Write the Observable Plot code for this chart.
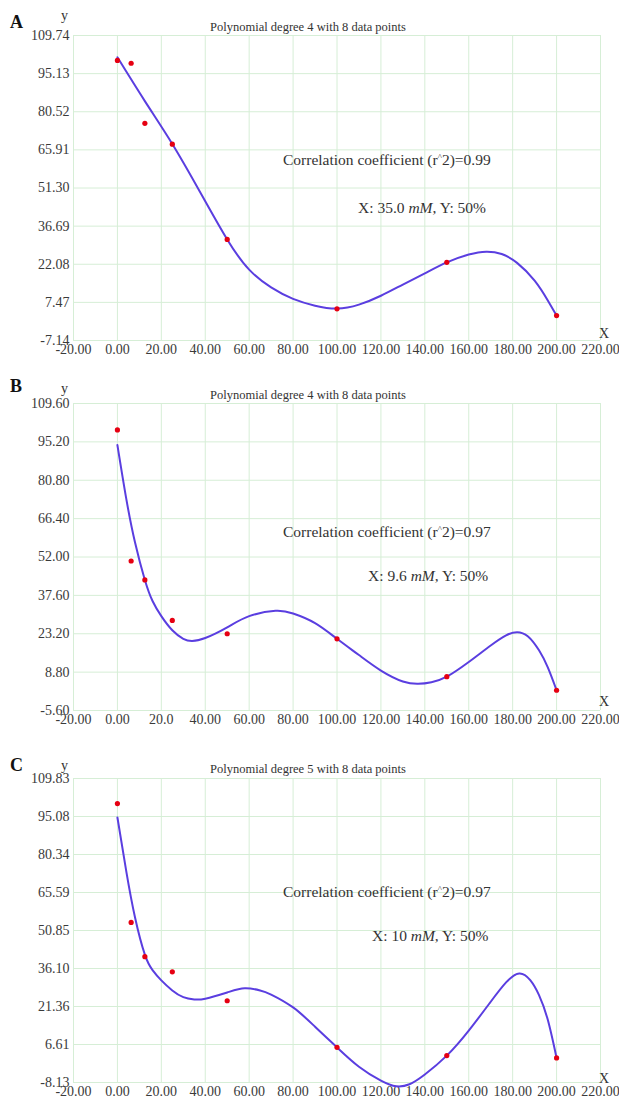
<!DOCTYPE html>
<html>
<head>
<meta charset="utf-8">
<script src="https://cdn.jsdelivr.net/npm/d3@7"></script>
<script src="https://cdn.jsdelivr.net/npm/@observablehq/plot@0.6"></script>
<style>
  html, body { margin: 0; padding: 0; background: #fff; }
  body { width: 619px; font-family: "Liberation Serif", "Times New Roman", "DejaVu Serif", serif; color: #333; }
  .panel { position: relative; width: 619px; overflow: visible; }
  .panel svg { position: absolute; left: 0; top: 0; overflow: visible; }
  .lbl { position: absolute; white-space: nowrap; line-height: 1; }
  .letter { font-weight: bold; font-size: 18px; color: #111; }
  .title { font-size: 12.5px; transform: translateX(-50%); }
  .axlab { font-size: 14px; }
  .ann { font-size: 15.5px; }
</style>
</head>
<body>
<div id="chart"></div>
<script>
// ---------- data ----------
const xData = [0, 6.25, 12.5, 25, 50, 100, 150, 200];
const yDataA = [100.2, 99.1, 76.1, 68.1, 31.6, 5.0, 22.8, 2.4];
const yDataB = [99.7, 50.5, 43.4, 28.2, 23.2, 21.3, 7.1, 2.0];
const yDataC = [100.1, 54.0, 40.7, 34.8, 23.6, 5.5, 2.3, 1.4];

// fitted curves
const curveXA = [0, 12.5, 25, 37.5, 50, 60, 70, 80, 90, 100, 110, 120, 130, 140, 150, 160, 168, 175, 182, 190, 196, 200];
const curveYA = [101.4, 84.6, 68.2, 50.0, 31.6, 20.0, 13.2, 8.8, 6.2, 5.1, 6.6, 10.0, 14.3, 18.6, 22.8, 25.8, 26.9, 26.0, 22.6, 15.8, 8.2, 2.4];
const curveXB = [0, 4, 8, 12.5, 16, 20, 25, 30, 34, 40, 50, 60, 72, 80, 90, 100, 110, 120, 130, 137, 143, 150, 160, 170, 177, 182, 187, 192, 196, 200];
const curveYB = [94.0, 74, 57.5, 43.4, 35.5, 29.8, 24.5, 21.3, 20.5, 21.6, 25.6, 29.8, 31.8, 30.8, 27.2, 21.3, 15.2, 9.4, 5.3, 4.4, 5.0, 7.1, 12.6, 18.8, 22.6, 23.8, 22.2, 17.0, 10.6, 2.0];
const curveXC = [0, 4, 8, 12.5, 16, 20, 25, 30, 35, 40, 50, 58, 65, 70, 80, 90, 100, 110, 120, 127, 133, 140, 150, 160, 170, 177, 183, 188, 192, 196, 200];
const curveYC = [94.7, 74, 56, 41.5, 35.5, 31.5, 27.6, 25.0, 24.1, 24.4, 26.8, 28.4, 27.6, 26.0, 21.0, 13.5, 5.5, -2.0, -7.4, -9.6, -8.8, -5.0, 2.3, 12.0, 23.2, 30.7, 34.2, 31.6, 25.8, 16.2, 1.4];

// tick labels
const xTickLabelsA = ["-20.00", "0.00", "20.00", "40.00", "60.00", "80.00", "100.00", "120.00", "140.00", "160.00", "180.00", "200.00", "220.00"];
const xTickLabelsB = ["-20.00", "0.00", "20.0", "40.00", "60.00", "80.00", "100.00", "120.00", "140.00", "160.00", "180.00", "200.00", "220.00"];
const xTickLabelsC = ["-20.00", "0.00", "20.00", "40.00", "60.00", "80.00", "100.00", "120.00", "140.00", "160.00", "180.00", "200.00", "220.00"];
const yTickLabelsA = ["-7.14", "7.47", "22.08", "36.69", "51.30", "65.91", "80.52", "95.13", "109.74"];
const yTickLabelsB = ["-5.60", "8.80", "23.20", "37.60", "52.00", "66.40", "80.80", "95.20", "109.60"];
const yTickLabelsC = ["-8.13", "6.61", "21.36", "36.10", "50.85", "65.59", "80.34", "95.08", "109.83"];

const panelLetters = ["A", "B", "C"];
const panelTitles = ["Polynomial degree 4 with 8 data points", "Polynomial degree 4 with 8 data points", "Polynomial degree 5 with 8 data points"];
const r2Values = ["0.99", "0.97", "0.97"];
const halfX = ["35.0", "9.6", "10"];

// ---------- drawing ----------
const gridColor = "#d6eed6";
const curveColor = "#5a3ee0";
const dotColor = "#e60012";
const FONT = "'Liberation Serif', 'Times New Roman', 'DejaVu Serif', serif";

const layouts = [
  {height: 365, mt: 35, mb: 25, letterY: 13, yLabY: 9, titleY: 21, xLabY: 327, annY: 152, ann2Y: 200, ann2X: 358},
  {height: 365, mt: 38, mb: 20, letterY: 12, yLabY: 17, titleY: 24, xLabY: 330, annY: 159, ann2Y: 203, ann2X: 368},
  {height: 367, mt: 48, mb: 15, letterY: 26, yLabY: 29, titleY: 33, xLabY: 342, annY: 154, ann2Y: 198, ann2X: 372}
];

const panels = [
  {xT: xTickLabelsA, yT: yTickLabelsA, yD: yDataA, cx: curveXA, cy: curveYA},
  {xT: xTickLabelsB, yT: yTickLabelsB, yD: yDataB, cx: curveXB, cy: curveYB},
  {xT: xTickLabelsC, yT: yTickLabelsC, yD: yDataC, cx: curveXC, cy: curveYC}
];

const root = document.getElementById("chart");

panels.forEach((p, i) => {
  const L = layouts[i];
  const xTicks = p.xT.map(Number);
  const yTicks = p.yT.map(Number);
  const xMap = new Map(xTicks.map((v, k) => [v, p.xT[k]]));
  const yMap = new Map(yTicks.map((v, k) => [v, p.yT[k]]));
  const pts = xData.map((x, k) => ({x, y: p.yD[k]}));
  const curve = p.cx.map((x, k) => ({x, y: p.cy[k]}));

  const svg = Plot.plot({
    width: 619,
    height: L.height,
    marginLeft: 73,
    marginRight: 19,
    marginTop: L.mt,
    marginBottom: L.mb,
    style: {fontFamily: FONT, fontSize: "14px", color: "#3a3a3a", background: "transparent", overflow: "visible"},
    x: {domain: [xTicks[0], xTicks[xTicks.length - 1]]},
    y: {domain: [yTicks[0], yTicks[yTicks.length - 1]]},
    marks: [
      Plot.gridX(xTicks, {stroke: gridColor, strokeOpacity: 1, strokeWidth: 1}),
      Plot.gridY(yTicks, {stroke: gridColor, strokeOpacity: 1, strokeWidth: 1}),
      Plot.axisX({ticks: xTicks, tickFormat: d => xMap.get(d), tickSize: 0, tickPadding: 4, label: null, fontSize: 14}),
      Plot.axisY({ticks: yTicks, tickFormat: d => yMap.get(d), tickSize: 0, tickPadding: 4, label: null, fontSize: 14}),
      Plot.line(curve, {x: "x", y: "y", curve: "natural", stroke: curveColor, strokeWidth: 2}),
      Plot.dot(pts, {x: "x", y: "y", r: 2.6, fill: dotColor, stroke: "none"})
    ]
  });

  const div = document.createElement("div");
  div.className = "panel";
  div.style.height = L.height + "px";
  div.appendChild(svg);

  const add = (cls, html, left, top) => {
    const s = document.createElement("div");
    s.className = "lbl " + cls;
    s.innerHTML = html;
    s.style.left = left + "px";
    s.style.top = top + "px";
    div.appendChild(s);
  };
  add("letter", panelLetters[i], 10, L.letterY);
  add("axlab", "y", 61, L.yLabY);
  add("title", panelTitles[i], 308, L.titleY);
  add("axlab", "X", 599, L.xLabY);
  add("ann", `Correlation coefficient (r<span style="font-size:9px;position:relative;top:-5px">^</span>2)=${r2Values[i]}`, 283, L.annY);
  add("ann", `X: ${halfX[i]} <i>mM</i>, Y: 50%`, L.ann2X, L.ann2Y);

  root.appendChild(div);
});
</script>
</body>
</html>
